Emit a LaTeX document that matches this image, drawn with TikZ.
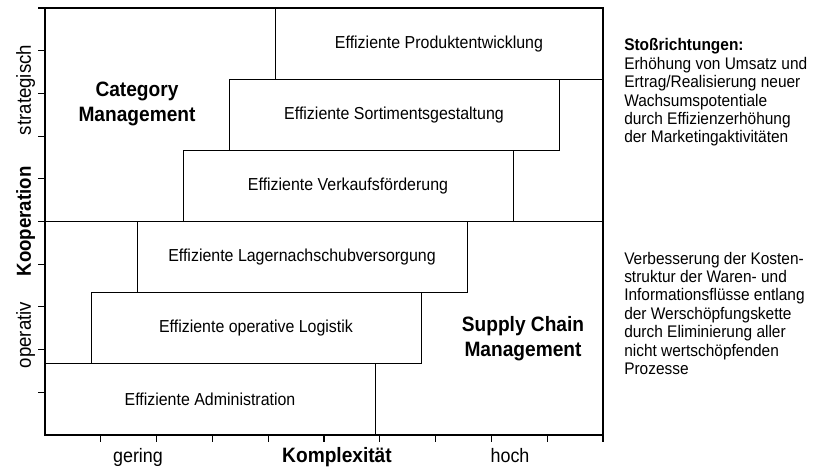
\documentclass[tikz,border=0pt]{standalone}
\usepackage{fontspec}
\setmainfont{Liberation Sans}[FakeStretch=0.92]
\begin{document}
\begin{tikzpicture}[x=0.75pt,y=-0.75pt,
  stepbox/.style={draw, line width=0.6pt, minimum width=247.5pt, minimum height=53.4pt,
    inner sep=0pt, font=\fontsize{13}{15}\selectfont},
  axisline/.style={line width=1.2pt},
  frameline/.style={line width=0.8pt},
  tickmark/.style={line width=0.8pt},
  field/.style={font=\fontsize{15.6}{18.5}\selectfont\bfseries, align=center, inner sep=0pt},
  axislabel/.style={anchor=base, font=\fontsize{14.6}{17}\selectfont, inner sep=0pt},
  axistitle/.style={anchor=base, font=\fontsize{15.6}{18}\selectfont\bfseries, inner sep=0pt},
  sidelabel/.style={rotate=90, anchor=base, font=\fontsize{15.2}{17}\selectfont, inner sep=0pt},
  note/.style={anchor=base west, align=left, font=\fontsize{12.6}{13.8}\selectfont, inner sep=0pt}
]
\useasboundingbox (0,0) rectangle (819,470);

% staircase of ECR fields
\node[stepbox] (adm)  at (210,399.4)  {Effiziente Administration};
\node[stepbox] (log)  at (256,328.25) {Effiziente operative Logistik};
\node[stepbox] (lag)  at (302,257.1)  {Effiziente Lagernachschubversorgung};
\node[stepbox] (vkf)  at (348,185.9)  {Effiziente Verkaufsförderung};
\node[stepbox] (sort) at (394,114.75) {Effiziente Sortimentsgestaltung};
\node[stepbox, minimum width=246pt] (prod) at (439,43.6) {Effiziente Produktentwicklung};

% frame and axes
\draw[frameline] (38,8) -- (603,8) -- (603,442);
\draw[axisline] (45,8) -- (45,435) -- (603,435);
\draw[axisline] (38,221.5) -- (603,221.5);

% tick marks
\foreach \k in {1,...,10} {
  \draw[tickmark] (38,{435-42.7*\k}) -- (45,{435-42.7*\k});
  \draw[tickmark] ({45+55.8*\k},435) -- ({45+55.8*\k},442);
}

% field labels
\node[field] (cm)  at (137,104) {Category\\Management};
\node[field, font=\fontsize{15.6}{18.8}\selectfont\bfseries] (scm) at (523,338.5) {Supply Chain\\Management};

% vertical axis labels (baseline on the right of the rotated text)
\node[sidelabel] (strat) at (31,90) {strategisch};
\node[sidelabel, font=\fontsize{15.2}{17}\selectfont\bfseries] (koop) at (31,221.5) {Kooperation};
\node[sidelabel] (oper) at (31,335) {operativ};

% horizontal axis labels
\node[axislabel] (ger)  at (138,463) {gering};
\node[axistitle] (komp) at (337,463) {Komplexität};
\node[axislabel] (hoch) at (510,463) {hoch};

% side notes (anchored at the baseline of their last line)
\node[note] (n1) at (624,143) {\textbf{Stoßrichtungen:}\\Erhöhung von Umsatz und\\Ertrag/Realisierung neuer\\Wachsumspotentiale\\durch Effizienzerhöhung\\der Marketingaktivitäten};
\node[note] (n2) at (624,374.5) {Verbesserung der Kosten-\\struktur der Waren- und\\Informationsflüsse entlang\\der Werschöpfungskette\\durch Eliminierung aller\\nicht wertschöpfenden\\Prozesse};
\end{tikzpicture}
\end{document}
